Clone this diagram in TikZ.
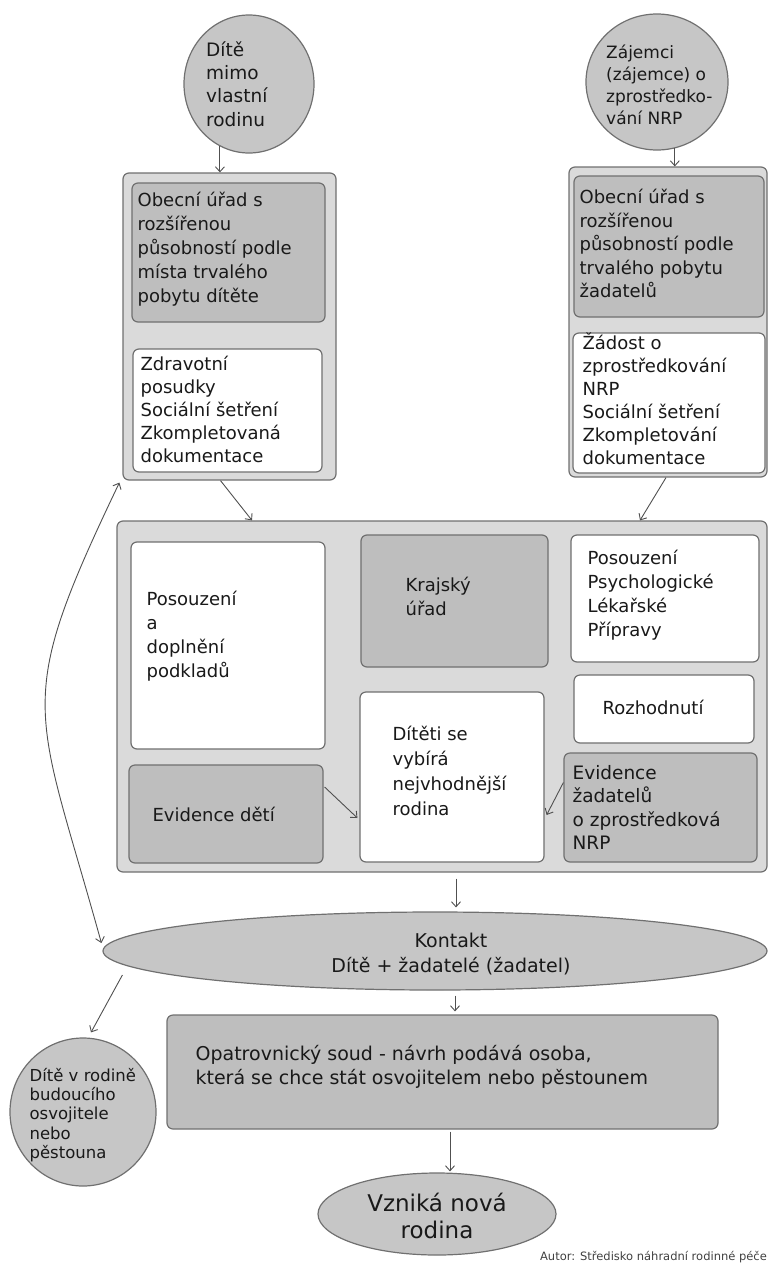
\documentclass[tikz,border=0pt]{standalone}
\usepackage{fontspec}
\setmainfont{DejaVu Sans}
\usetikzlibrary{shapes.geometric}
\usetikzlibrary{arrows.meta}
\usetikzlibrary{calc}
\definecolor{outerfill}{RGB}{218,218,218}
\definecolor{innergray}{RGB}{190,190,190}
\definecolor{ovalfill}{RGB}{198,198,198}
\definecolor{edgegray}{RGB}{112,112,112}
\definecolor{linkgray}{RGB}{80,80,80}
\tikzset{
  outerbox/.style={draw=edgegray,line width=1.2pt,fill=outerfill,rounded corners=6pt,inner sep=0pt},
  graybox/.style={draw=edgegray,line width=1.2pt,fill=innergray,rounded corners=6pt,inner sep=0pt},
  whitebox/.style={draw=edgegray,line width=1.2pt,fill=white,rounded corners=6pt,inner sep=0pt},
  oval/.style={ellipse,draw=edgegray,line width=1.2pt,fill=ovalfill,inner sep=0pt},
  txt/.style={inner sep=0pt,align=left,text=black!90,font=\fontsize{18}{24}\selectfont},
  link/.style={draw=linkgray,line width=0.9pt,-{Straight Barb[length=5pt,width=9pt]}},
}
\begin{document}
\begin{tikzpicture}[x=1pt,y=1pt,yscale=-1,xscale=1]
\useasboundingbox (0,0) rectangle (769,1266);

%Shape: Ellipse [dite]
\node[oval,minimum width=130,minimum height=138] (dite) at (249,84) {};
% Text Node
\node[txt,anchor=west,font=\fontsize{18.5}{23.3}\selectfont] (dite-t) at ($(dite.center)+(-43,0)$) {Dítě\\mimo\\vlastní\\rodinu};
%Shape: Ellipse [zajemci]
\node[oval,minimum width=142,minimum height=136] (zajemci) at (657,82) {};
% Text Node
\node[txt,anchor=west,font=\fontsize{17}{22}\selectfont] (zajemci-t) at ($(zajemci.center)+(-51,3)$) {Zájemci\\(zájemce) o\\zprostředko-\\vání NRP};

%Shape: Rectangle [obecni urad, dite]
\node[outerbox,minimum width=213,minimum height=307] (obecL) at (229.5,326.5) {};
\node[graybox,minimum width=193,minimum height=139] (obecLa) at (228.5,252.5) {};
\node[whitebox,minimum width=189,minimum height=123] (obecLb) at (227.5,410.5) {};
% Text Node
\node[txt,anchor=west] (obecLa-t) at ($(obecLa.west)+(6,-3)$) {Obecní úřad s\\rozšířenou\\působností podle\\místa trvalého\\pobytu dítěte};
% Text Node
\node[txt,anchor=west,font=\fontsize{18}{23}\selectfont] (obecLb-t) at ($(obecLb.west)+(8,-1)$) {Zdravotní\\posudky\\Sociální šetření\\Zkompletovaná\\dokumentace};

%Shape: Rectangle [obecni urad, zadatele]
\node[outerbox,minimum width=198,minimum height=310] (obecP) at (668,322) {};
\node[graybox,minimum width=190,minimum height=141] (obecPa) at (669,246.5) {};
\node[whitebox,minimum width=192,minimum height=140] (obecPb) at (669,403) {};
% Text Node
\node[txt,anchor=west,font=\fontsize{18}{23.5}\selectfont] (obecPa-t) at ($(obecPa.west)+(6,-3)$) {Obecní úřad s\\rozšířenou\\působností podle\\trvalého pobytu\\žadatelů};
% Text Node
\node[txt,anchor=west,font=\fontsize{18}{23}\selectfont] (obecPb-t) at ($(obecPb.west)+(10,-4)$) {Žádost o\\zprostředkování\\NRP\\Sociální šetření\\Zkompletování\\dokumentace};

%Shape: Rectangle [krajsky urad]
\node[outerbox,minimum width=650,minimum height=351] (kraj) at (442,696.5) {};
\node[whitebox,minimum width=194,minimum height=207] (posouzeni) at (228,645.5) {};
\node[graybox,minimum width=187,minimum height=132] (krajsky) at (454.5,601) {};
\node[whitebox,minimum width=188,minimum height=127] (psych) at (665,598.5) {};
\node[whitebox,minimum width=180,minimum height=68] (rozhodnuti) at (664,709) {};
\node[whitebox,minimum width=184,minimum height=170] (vyber) at (452,777) {};
\node[graybox,minimum width=194,minimum height=98] (evdeti) at (226,814) {};
\node[graybox,minimum width=193,minimum height=109] (evzad) at (660.5,807.5) {};
% Text Node
\node[txt,anchor=west] (posouzeni-t) at ($(posouzeni.west)+(16,-9)$) {Posouzení\\a\\doplnění\\podkladů};
% Text Node
\node[txt,anchor=west] (krajsky-t) at ($(krajsky.west)+(45,-5)$) {Krajský\\úřad};
% Text Node
\node[txt,anchor=west] (psych-t) at ($(psych.west)+(17,-3)$) {Posouzení\\Psychologické\\Lékařské\\Přípravy};
% Text Node
\node[txt,anchor=west] (rozhodnuti-t) at ($(rozhodnuti.west)+(29,-2)$) {Rozhodnutí};
% Text Node
\node[txt,anchor=west,font=\fontsize{18}{25}\selectfont] (vyber-t) at ($(vyber.west)+(33,-6)$) {Dítěti se\\vybírá\\nejvhodnější\\rodina};
% Text Node
\node[txt,anchor=west] (evdeti-t) at ($(evdeti.west)+(24,0)$) {Evidence dětí};
% Text Node
\node[txt,anchor=west,font=\fontsize{18.5}{23.3}\selectfont] (evzad-t) at ($(evzad.west)+(9,0)$) {Evidence\\žadatelů\\o zprostředková\\NRP};

%Shape: Ellipse [kontakt]
\node[oval,minimum width=664,minimum height=78] (kontakt) at (435,951) {};
% Text Node
\node[txt,align=center,font=\fontsize{19}{25}\selectfont] (kontakt-t) at (451,954) {Kontakt\\Dítě + žadatelé (žadatel)};

%Shape: Rectangle [soud]
\node[graybox,minimum width=551,minimum height=114] (soud) at (442.5,1072) {};
% Text Node
\node[txt,anchor=west,font=\fontsize{19}{23.3}\selectfont] (soud-t) at ($(soud.west)+(29,-5)$) {Opatrovnický soud - návrh podává osoba,\\která se chce stát osvojitelem nebo pěstounem};

%Shape: Ellipse [dite v rodine]
\node[oval,minimum width=146,minimum height=148] (vrodine) at (83,1112) {};
% Text Node
\node[txt,anchor=west,font=\fontsize{16.5}{19.2}\selectfont] (vrodine-t) at ($(vrodine.west)+(20,3)$) {Dítě v rodině\\budoucího\\osvojitele\\nebo\\pěstouna};

%Shape: Ellipse [nova rodina]
\node[oval,minimum width=238,minimum height=82] (nova) at (437,1214) {};
% Text Node
\node[txt,align=center,font=\fontsize{23}{27}\selectfont] (nova-t) at (437,1216) {Vzniká nová\\rodina};

% Text Node
\node[inner sep=0pt,anchor=east,text=black!75,font=\fontsize{11.5}{14}\selectfont] (autor) at (767,1257) {Autor: Středisko náhradní rodinné péče};

%Curve Lines
\draw[link] (dite.245) -- (dite.245 |- obecL.north);
\draw[link] (zajemci.285) -- (zajemci.285 |- obecP.north);
\draw[link] ($(obecL.south)+(-9,0)$) -- ($(kraj.north)+(-190,0)$);
\draw[link] ($(obecP.south)+(-2,0)$) -- ($(kraj.north)+(198,0)$);
\draw[link] ($(evdeti.east)+(1,-27)$) -- ($(vyber.west)+(-2,41)$);
\draw[link] ($(evzad.west)+(0,-25)$) -- ($(vyber.east)+(2,38)$);
\draw[link] ($(kraj.south)+(14,6)$) -- ($(kontakt.north)+(21,-4)$);
\draw[link] ($(kontakt.south)+(20,5)$) -- ($(soud.north)+(12.5,-3)$);
\draw[link] ($(soud.south)+(7.5,2)$) -- ($(nova.north)+(13,-1)$);
\draw[link] ($(kontakt.west)+(20,24)$) -- ($(vrodine.north)+(8,-5)$);
\draw[link,{Straight Barb[length=5pt,width=9pt]}-{Straight Barb[length=5pt,width=9pt]}] ($(obecL.south west)+(-3,2)$) .. controls (12,707) and (35,703) .. ($(kontakt.west)+(-1,-8)$);

\end{tikzpicture}
\end{document}
